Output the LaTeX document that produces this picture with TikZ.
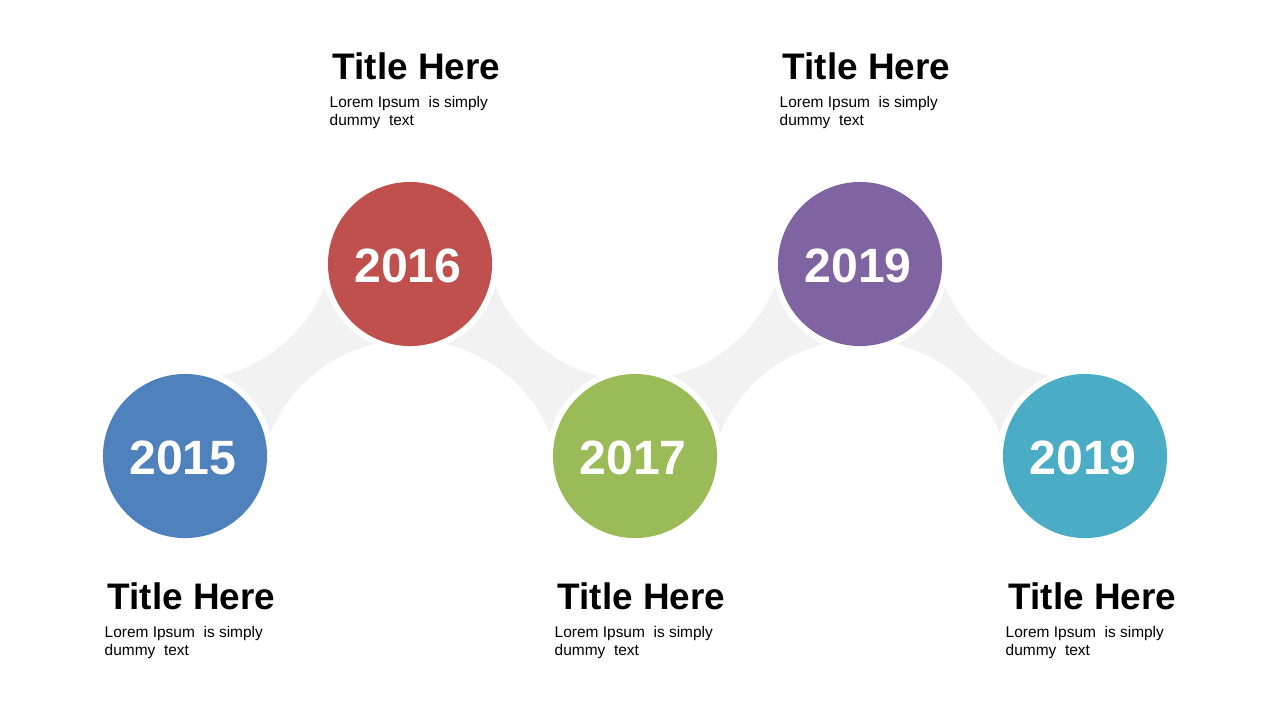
\documentclass[tikz,border=0pt]{standalone}
\usepackage{fontspec}
\setmainfont{Liberation Sans}
\usetikzlibrary{calc}
\definecolor{year15}{HTML}{4F81BD}
\definecolor{year16}{HTML}{C0504D}
\definecolor{year17}{HTML}{9BBB59}
\definecolor{year19}{HTML}{8064A2}
\definecolor{year20}{HTML}{4BACC6}
\definecolor{bandgrey}{HTML}{F2F2F2}
\newcommand{\pixelsize}{0.01cm}
\newcommand{\makeyear}[4]{
	\fill[white] (#2) circle (0.88cm);
	\fill[#3] (#2) circle (0.82cm);
	\node[yeartext] (#1) at ($(#2)+(-2,2)$) {#4};
}
\newcommand{\makeinfo}[2]{
	\node[titletext] (#1title) at (#2) {Title Here};
	\node[bodytext] (#1body) at ($(#2)+(-3,46)$) {Lorem Ipsum\ \ is simply\\dummy\ \ text};
}

\begin{document}
\begin{tikzpicture}[x=\pixelsize,y=-\pixelsize,
	yeartext/.style={text=white, inner sep=0, font=\fontsize{13.7}{16}\selectfont\bfseries},
	titletext/.style={anchor=base west, inner sep=0, font=\fontsize{10.5}{12}\selectfont\bfseries},
	bodytext/.style={anchor=base west, inner sep=0, align=left, font=\fontsize{4.4}{5.1}\selectfont}]
	\useasboundingbox (0,0) rectangle (1280,720);
	\coordinate (A) at (185,456);
	\coordinate (B) at (410,264);
	\coordinate (C) at (635,456);
	\coordinate (D) at (860,264);
	\coordinate (E) at (1085,456);

	% grey band between the years
	\fill[bandgrey] (A) rectangle (B);
	\fill[bandgrey] (B) rectangle (C);
	\fill[bandgrey] (C) rectangle (D);
	\fill[bandgrey] (D) rectangle (E);
	\foreach \cx/\cy in {185/229, 410/491, 635/229, 860/491, 1085/229}
		\fill[white] (\cx,\cy) circle (1.51cm);

	\makeyear{y2015}{A}{year15}{2015}
	\makeyear{y2016}{B}{year16}{2016}
	\makeyear{y2017}{C}{year17}{2017}
	\makeyear{y2019a}{D}{year19}{2019}
	\makeyear{y2019b}{E}{year20}{2019}

	\makeinfo{i2015}{107,609}
	\makeinfo{i2016}{332,79}
	\makeinfo{i2017}{557,609}
	\makeinfo{i2019a}{782,79}
	\makeinfo{i2019b}{1008,609}
\end{tikzpicture}
\end{document}
